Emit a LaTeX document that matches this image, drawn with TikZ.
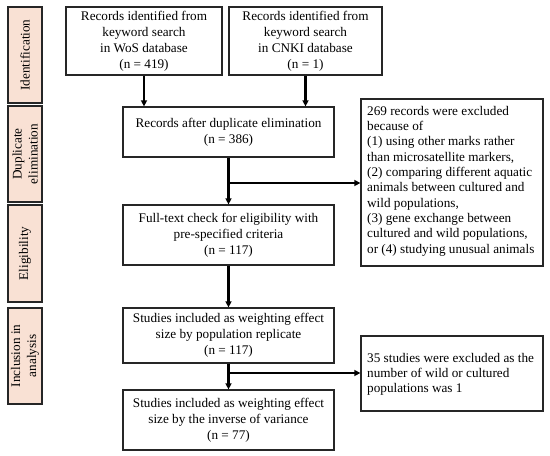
\documentclass[tikz,border=0pt]{standalone}
\usepackage{fontspec}
\setmainfont{Liberation Serif}
\usetikzlibrary{arrows.meta}
\definecolor{peach}{HTML}{F9E1D4}
\tikzset{
  x=1pt, y=-1pt,
  box/.style={draw=black!85, line width=1.3pt, inner sep=0pt},
  stage/.style={draw=black!85, line width=1.3pt, fill=peach, inner sep=0pt},
  txt/.style={font=\fontsize{13.2}{16}\selectfont, align=center, inner sep=0pt},
  ltxt/.style={font=\fontsize{13.2}{15.3}\selectfont, align=left, inner sep=0pt, anchor=north west},
  arr/.style={line width=2.2pt, -{Triangle[length=6pt,width=6pt]}},
}
\begin{document}
\begin{tikzpicture}
\useasboundingbox (0,0) rectangle (550,456);
% stage labels
\draw[stage] (8,7) rectangle (42,103);
\node[txt, rotate=90] (s1) at (25,55) {Identification};
\draw[stage] (8,106) rectangle (42,202);
\node[txt, rotate=90] (s2) at (25,154) {Duplicate\\elimination};
\draw[stage] (8,205) rectangle (42,302);
\node[txt, rotate=90] (s3) at (25,253.5) {Eligibility};
\draw[stage] (8,308) rectangle (42,404);
\node[txt, rotate=90] (s4) at (25,356) {Inclusion in\\analysis};
% main boxes
\node[box, minimum width=156pt, minimum height=68pt] (wos) at (144,41) {};
\node[txt] at (wos) {Records identified from\\keyword search\\in WoS database\\(n = 419)};
\node[box, minimum width=153pt, minimum height=68pt] (cnki) at (305.5,41) {};
\node[txt] at (cnki) {Records identified from\\keyword search\\in CNKI database\\(n = 1)};
\node[box, minimum width=211pt, minimum height=50pt] (dup) at (228.5,132) {};
\node[txt] at (dup) {Records after duplicate elimination\\(n = 386)};
\node[box, minimum width=211pt, minimum height=60pt] (full) at (228.5,235) {};
\node[txt] at (full) {Full-text check for eligibility with\\pre-specified criteria\\(n = 117)};
\node[box, minimum width=211pt, minimum height=55pt] (st1) at (228.5,335.5) {};
\node[txt] at (st1) {Studies included as weighting effect\\size by population replicate\\(n = 117)};
\node[box, minimum width=211pt, minimum height=60pt] (st2) at (228.5,420) {};
\node[txt] at (st2) {Studies included as weighting effect\\size by the inverse of variance\\(n = 77)};
% exclusion boxes
\node[box, minimum width=182pt, minimum height=167pt] (ex1) at (452,182.5) {};
\node[ltxt] at (367,106) {269 records were excluded\\because of\\(1) using other marks rather\\than microsatellite markers,\\(2) comparing different aquatic\\animals between cultured and\\wild populations,\\(3) gene exchange between\\cultured and wild populations,\\or (4) studying unusual animals};
\node[box, minimum width=182pt, minimum height=75pt] (ex2) at (452,373.5) {};
\node[ltxt] at (367,353) {35 studies were excluded as the\\number of wild or cultured\\populations was 1};
% arrows
\draw[arr] (wos.south) -- (wos.south |- dup.north);
\draw[arr] (cnki.south) -- (cnki.south |- dup.north);
\draw[arr] (dup.south) -- (full.north);
\coordinate (b1) at (228.5,183);
\draw[arr] (b1) -- (b1 -| ex1.west);
\draw[arr] (full.south) -- (st1.north);
\draw[arr] (st1.south) -- (st2.north);
\coordinate (b2) at (228.5,373);
\draw[arr] (b2) -- (b2 -| ex2.west);
\end{tikzpicture}
\end{document}
